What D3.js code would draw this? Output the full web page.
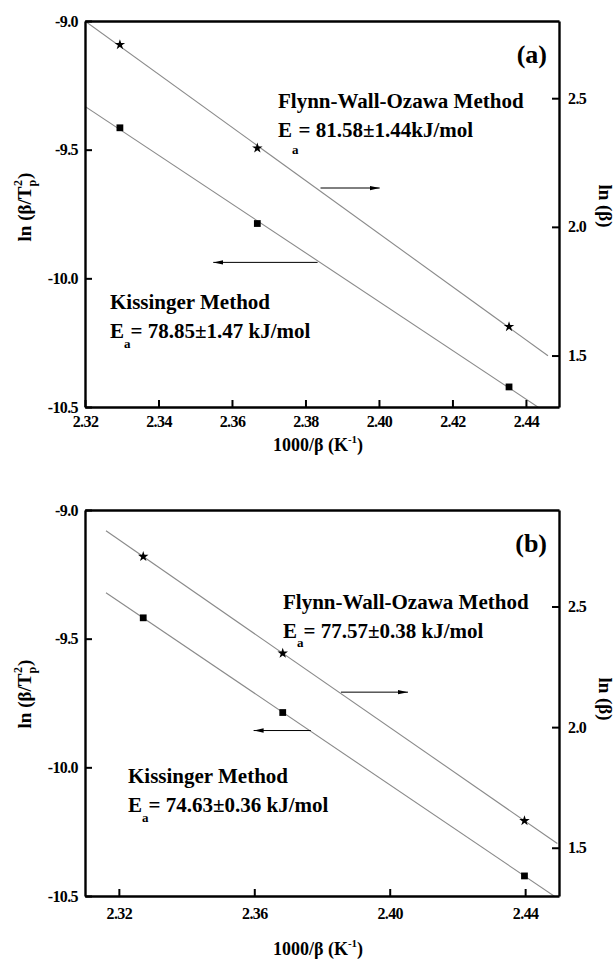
<!DOCTYPE html>
<html>
<head>
<meta charset="utf-8">
<script src="https://cdn.jsdelivr.net/npm/d3@7"></script>
<style>
    body { margin: 0; background: #fff; }
    text { font-family: "Liberation Serif", "Times New Roman", serif; font-weight: bold; fill: #000; }
</style>
</head>
<body>
<svg id="chartSvg" width="616" height="962"></svg>
<script>

// data (x = 1000/Tp, same for both methods)
const invTempA = [2.3295, 2.3669, 2.4354]
const lnBetaA = [2.708, 2.306, 1.612]
const kissingerA = [-9.415, -9.787, -10.422]

const invTempB = [2.3272, 2.3684, 2.4398]
const lnBetaB = [2.707, 2.306, 1.612]
const kissingerB = [-9.419, -9.787, -10.422]

// axes
const xDomainA = [2.32, 2.449]
const xTicksA = [2.32, 2.34, 2.36, 2.38, 2.40, 2.42, 2.44]
const xMinorA = [2.33, 2.35, 2.37, 2.39, 2.41, 2.43]
const xDomainB = [2.31, 2.45]
const xTicksB = [2.32, 2.36, 2.40, 2.44]
const xMinorB = [2.34, 2.38, 2.42]

const leftDomain = [-10.5, -9.0]
const leftTicks = [-10.5, -10.0, -9.5, -9.0]
const leftMinor = [-10.25, -9.75, -9.25]

const rightDomainA = [1.3, 2.8]
const rightDomainB = [1.3, 2.9]
const rightTicks = [1.5, 2.0, 2.5]
const rightMinor = [1.75, 2.25, 2.75]

// range of x the fitted lines are drawn over
const fitRangeA = [2.32, 2.446]
const fitRangeB = [2.3162, 2.4495]

// annotation texts
const panelNames = ['(a)', '(b)']
const fwoEnergy = ['81.58±1.44kJ/mol', '77.57±0.38 kJ/mol']
const kisEnergy = ['78.85±1.47 kJ/mol', '74.63±0.36 kJ/mol']

const plotLeft = 85
const plotWidth = 474
const plotHeight = 386

const panels = [
    {
        name: panelNames[0], top: 21,
        x: invTempA, lnBeta: lnBetaA, kis: kissingerA,
        xDomain: xDomainA, xTicks: xTicksA, xMinor: xMinorA, rightDomain: rightDomainA,
        fitRange: fitRangeA, tickPad: 9, xLabelY: 430,
        fwo: {text: fwoEnergy[0], x: 193, y: 87, sub: 17},
        kisText: {text: kisEnergy[0], x: 25, y: 288, sub: 10},
        arrowRight: {x1: 2.3841, x2: 2.4002, y: 2.151},
        arrowLeft: {x1: 2.3833, x2: 2.3549, y: -9.938},
        leftLabelY: 186, rightLabelY: 185
    },
    {
        name: panelNames[1], top: 510,
        x: invTempB, lnBeta: lnBetaB, kis: kissingerB,
        xDomain: xDomainB, xTicks: xTicksB, xMinor: xMinorB, rightDomain: rightDomainB,
        fitRange: fitRangeB, tickPad: 12, xLabelY: 445,
        fwo: {text: fwoEnergy[1], x: 198, y: 99, sub: 9},
        kisText: {text: kisEnergy[1], x: 43, y: 273, sub: 10},
        arrowRight: {x1: 2.3856, x2: 2.4054, y: 2.145},
        arrowLeft: {x1: 2.3767, x2: 2.3598, y: -9.857},
        leftLabelY: 184, rightLabelY: 189
    }
]

window.onload = function(){
    const svg = d3.select('#chartSvg')

    svg.append('defs').append('marker')
        .attr('id', 'arrowHead')
        .attr('viewBox', '0 0 10 6')
        .attr('refX', 10).attr('refY', 3)
        .attr('markerWidth', 10).attr('markerHeight', 6)
        .attr('markerUnits', 'userSpaceOnUse')
        .attr('orient', 'auto')
        .append('path')
        .attr('d', 'M0,0.8 L10,3 L0,5.2 Z')
        .attr('fill', '#000')

    panels.forEach((p, i) => drawPanel(svg, p, i))
}

function linearFit(xs, ys){
    const mx = d3.mean(xs)
    const my = d3.mean(ys)
    const slope = d3.sum(xs, (x, i) => (x - mx) * (ys[i] - my)) / d3.sum(xs, x => (x - mx) ** 2)
    return x => my + slope * (x - mx)
}

// plain hyphen for negatives, like the original figure
function tickFormat(spec){
    const f = d3.format(spec)
    return d => f(d).replace('\u2212', '-')
}

function drawPanel(svg, p, idx){
    const g = svg.append('g').attr('transform', 'translate(' + plotLeft + ',' + p.top + ')')

    const x = d3.scaleLinear().domain(p.xDomain).range([0, plotWidth])
    const yLeft = d3.scaleLinear().domain(leftDomain).range([plotHeight, 0])
    const yRight = d3.scaleLinear().domain(p.rightDomain).range([plotHeight, 0])

    g.append('clipPath').attr('id', 'clip' + idx)
        .append('rect').attr('width', plotWidth).attr('height', plotHeight)

    // fitted lines
    const fwoFit = linearFit(p.x, p.lnBeta)
    const kisFit = linearFit(p.x, p.kis)
    const lines = g.append('g').attr('clip-path', 'url(#clip' + idx + ')')
    lines.append('path')
        .datum(p.fitRange)
        .attr('d', d3.line().x(d => x(d)).y(d => yRight(fwoFit(d))))
        .attr('stroke', '#8a8a8a').attr('stroke-width', 1.1).attr('fill', 'none')
    lines.append('path')
        .datum(p.fitRange)
        .attr('d', d3.line().x(d => x(d)).y(d => yLeft(kisFit(d))))
        .attr('stroke', '#8a8a8a').attr('stroke-width', 1.1).attr('fill', 'none')

    // points
    g.selectAll('path.star')
        .data(p.x.map((v, i) => ({x: v, y: p.lnBeta[i]})))
        .join('path')
        .attr('class', 'star')
        .attr('transform', d => 'translate(' + x(d.x) + ',' + yRight(d.y) + ')')
        .attr('d', d3.symbol().type(d3.symbolStar).size(34))
        .attr('fill', '#000')
    g.selectAll('path.square')
        .data(p.x.map((v, i) => ({x: v, y: p.kis[i]})))
        .join('path')
        .attr('class', 'square')
        .attr('transform', d => 'translate(' + x(d.x) + ',' + yLeft(d.y) + ')')
        .attr('d', d3.symbol().type(d3.symbolSquare).size(46))
        .attr('fill', '#000')

    // arrows
    g.append('line')
        .attr('x1', x(p.arrowRight.x1)).attr('x2', x(p.arrowRight.x2))
        .attr('y1', yRight(p.arrowRight.y)).attr('y2', yRight(p.arrowRight.y))
        .attr('stroke', '#000').attr('stroke-width', 1)
        .attr('marker-end', 'url(#arrowHead)')
    g.append('line')
        .attr('x1', x(p.arrowLeft.x1)).attr('x2', x(p.arrowLeft.x2))
        .attr('y1', yLeft(p.arrowLeft.y)).attr('y2', yLeft(p.arrowLeft.y))
        .attr('stroke', '#000').attr('stroke-width', 1)
        .attr('marker-end', 'url(#arrowHead)')

    // axes
    const bottom = g.append('g').attr('transform', 'translate(0,' + plotHeight + ')')
    bottom.call(d3.axisBottom(x).tickValues(p.xMinor).tickSize(-4).tickFormat(''))
    bottom.call(d3.axisBottom(x).tickValues(p.xTicks).tickSize(-7).tickSizeOuter(0)
        .tickPadding(p.tickPad).tickFormat(tickFormat('.2f')))

    const left = g.append('g')
    left.call(d3.axisLeft(yLeft).tickValues(leftMinor).tickSize(-4).tickFormat(''))
    left.call(d3.axisLeft(yLeft).tickValues(leftTicks).tickSize(-7).tickSizeOuter(0)
        .tickPadding(7).tickFormat(tickFormat('.1f')))

    const right = g.append('g').attr('transform', 'translate(' + plotWidth + ',0)')
    right.call(d3.axisRight(yRight).tickValues(rightMinor).tickSize(-4).tickFormat(''))
    right.call(d3.axisRight(yRight).tickValues(rightTicks).tickSize(-7).tickSizeOuter(0)
        .tickPadding(9).tickFormat(tickFormat('.1f')))

    g.append('g').call(d3.axisTop(x).tickValues([]).tickSizeOuter(0))

    g.selectAll('.domain').attr('stroke', '#000').attr('stroke-width', 2.4)
    g.selectAll('.tick line').attr('stroke', '#000').attr('stroke-width', 2)
    g.selectAll('.tick text')
        .attr('font-size', 16)
        .attr('letter-spacing', -0.6)

    // panel tag
    g.append('text')
        .attr('x', 462).attr('y', 42)
        .attr('text-anchor', 'end')
        .attr('font-size', 26)
        .text(p.name)

    // method annotations
    annotate(g, 'Flynn-Wall-Ozawa Method', p.fwo)
    annotate(g, 'Kissinger Method', p.kisText)

    // axis titles
    const leftTitle = g.append('text')
        .attr('transform', 'translate(' + (31 - plotLeft) + ',' + p.leftLabelY + ') rotate(-90)')
        .attr('text-anchor', 'middle')
        .attr('font-size', 19)
    leftTitle.append('tspan').text('ln (β/T')
    leftTitle.append('tspan').attr('font-size', 12).attr('dy', 5).text('p')
    leftTitle.append('tspan').attr('font-size', 12).attr('dx', -6).attr('dy', -14).text('2')
    leftTitle.append('tspan').attr('dy', 9).attr('dx', 1).text(')')

    g.append('text')
        .attr('transform', 'translate(' + (599 - plotLeft) + ',' + p.rightLabelY + ') rotate(90)')
        .attr('text-anchor', 'middle')
        .attr('font-size', 19)
        .text('ln (β)')

    const xTitle = g.append('text')
        .attr('x', 318 - plotLeft).attr('y', p.xLabelY)
        .attr('text-anchor', 'middle')
        .attr('font-size', 18)
    xTitle.append('tspan').text('1000/β (K')
    xTitle.append('tspan').attr('font-size', 11).attr('dy', -8).text('-1')
    xTitle.append('tspan').attr('dy', 8).text(')')
}

function annotate(g, title, spec){
    g.append('text')
        .attr('x', spec.x).attr('y', spec.y)
        .attr('font-size', 21)
        .text(title)
    const t = g.append('text')
        .attr('x', spec.x).attr('y', spec.y + 29)
        .attr('font-size', 21)
    t.append('tspan').text('E')
    t.append('tspan').attr('font-size', 13).attr('dy', spec.sub).text('a')
    t.append('tspan').attr('dy', -spec.sub).text('= ' + spec.text)
}

</script>
</body>
</html>
